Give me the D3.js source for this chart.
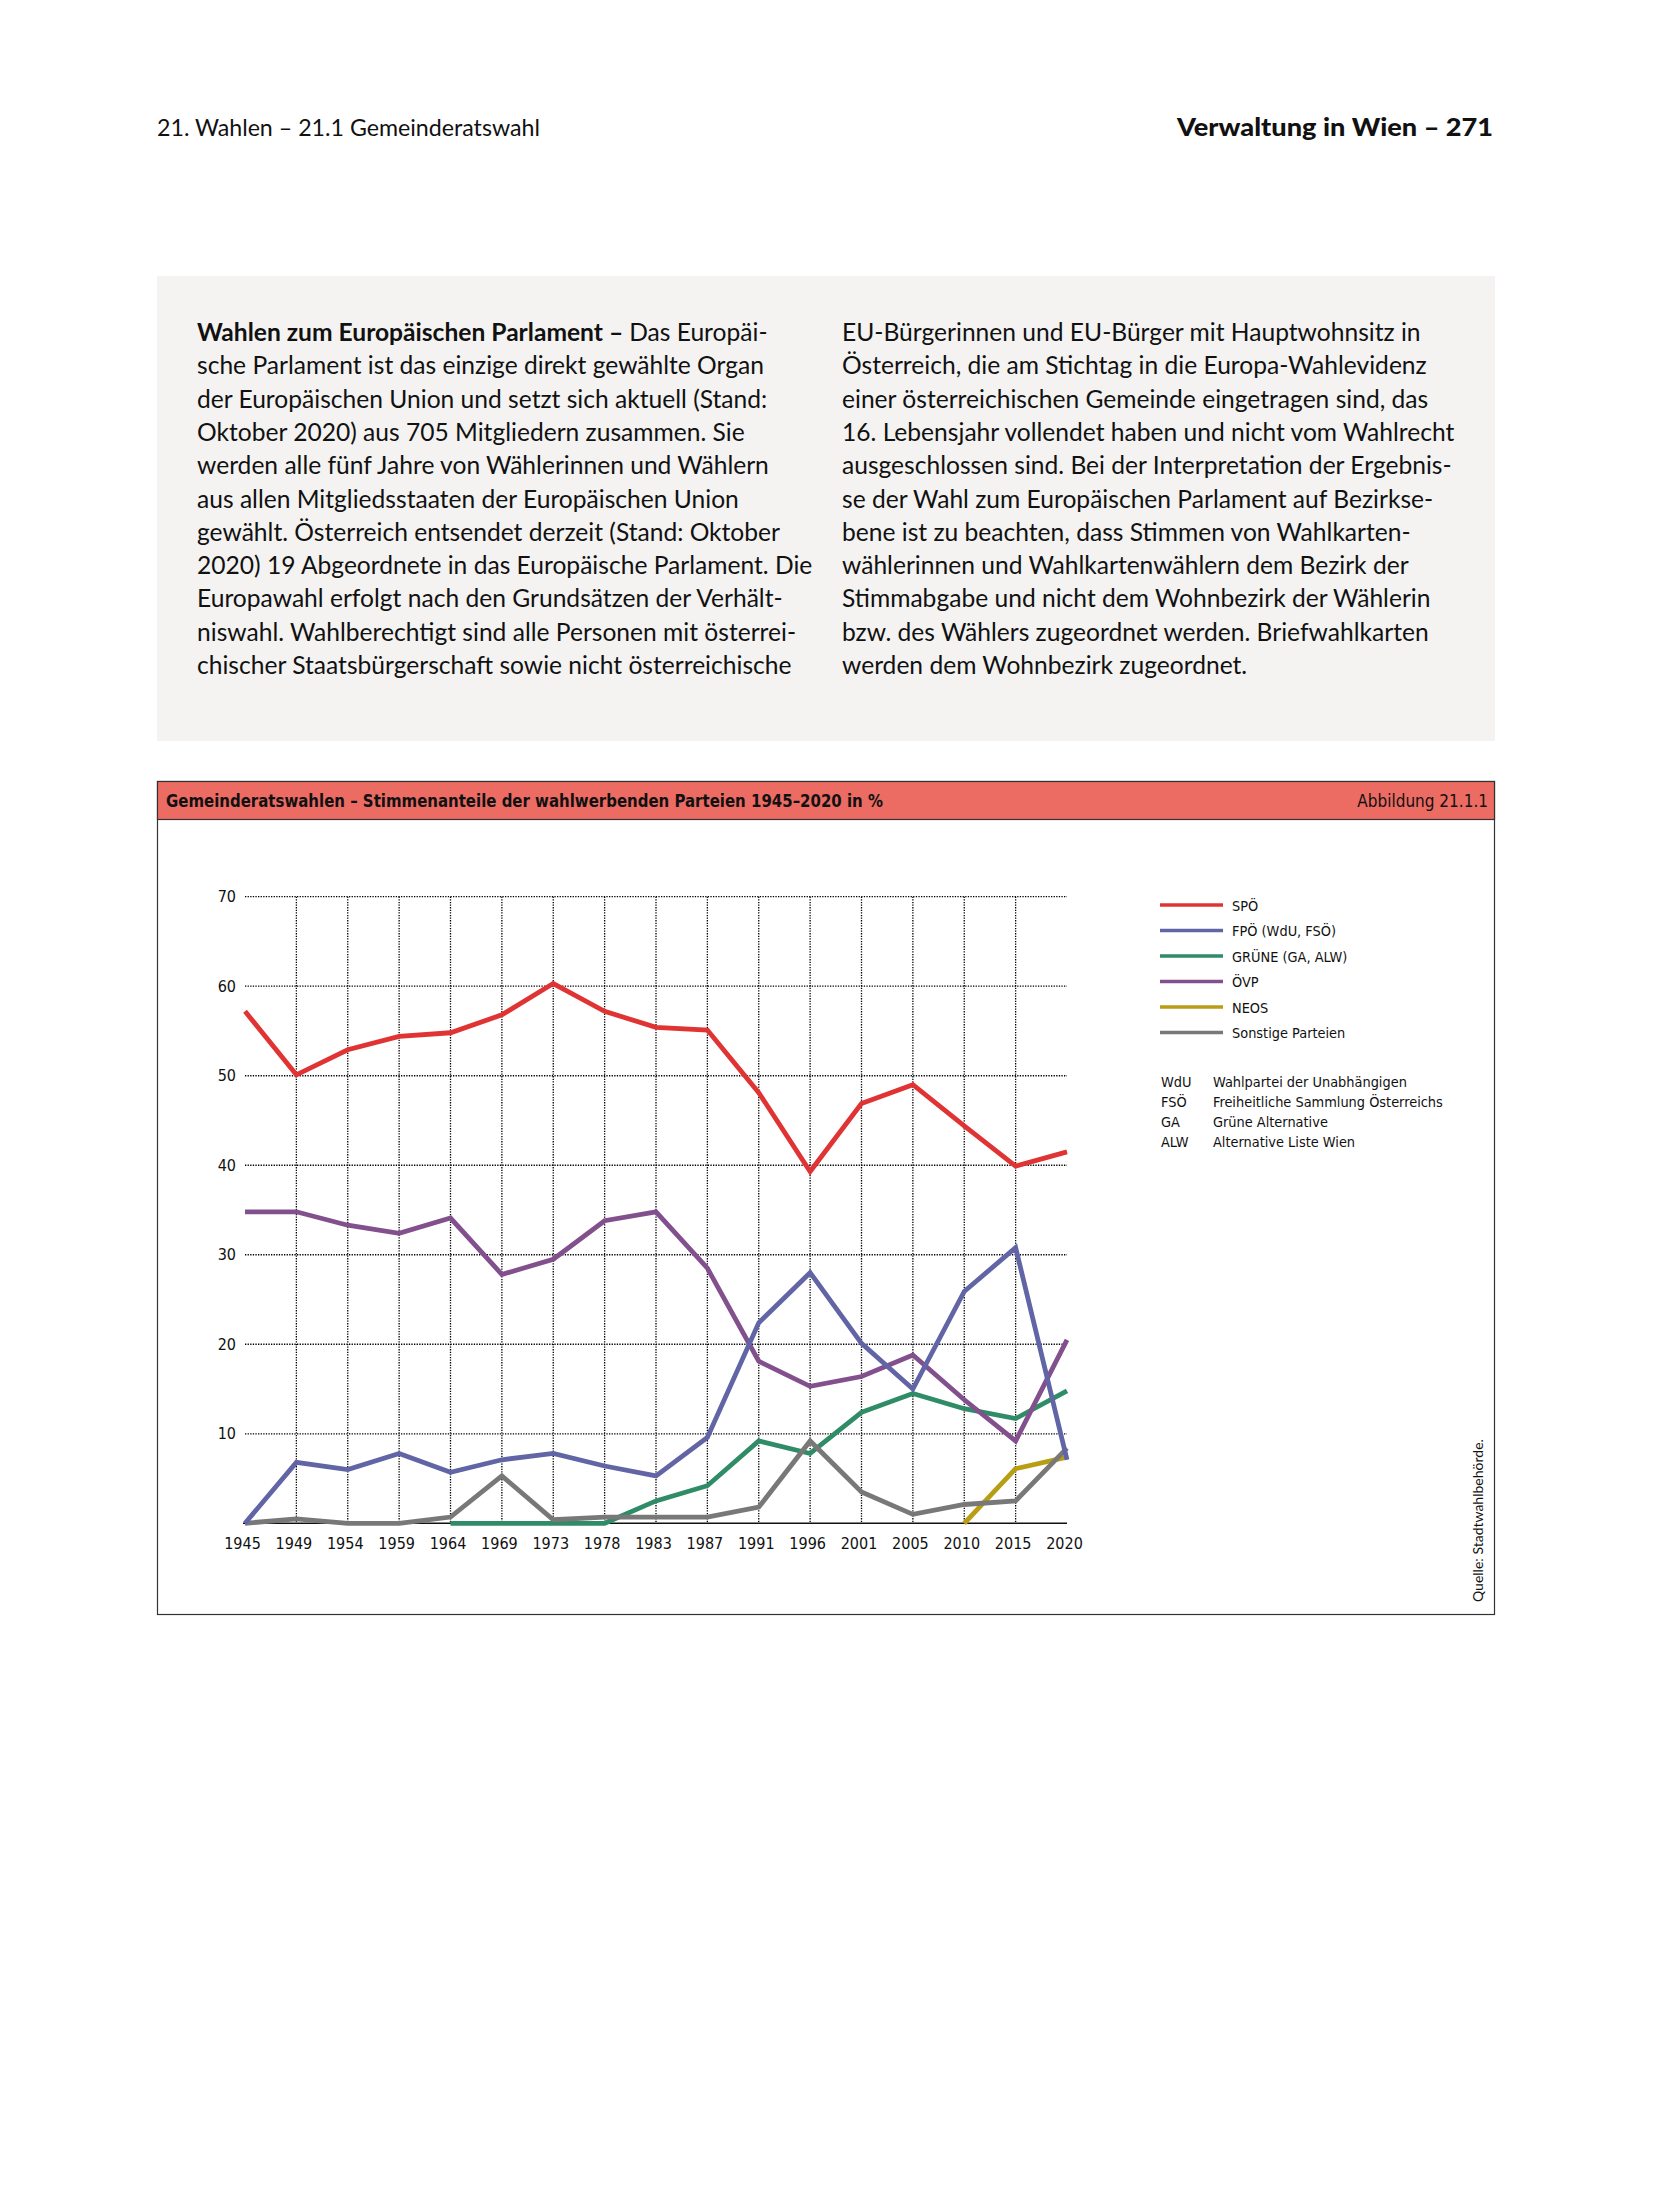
<!DOCTYPE html>
<html><head><meta charset="utf-8">
<script src="https://cdn.jsdelivr.net/npm/d3@7"></script>
<style>
html,body{margin:0;padding:0;background:#fff;}
svg{display:block;}
.body{font-family:Lato,"Open Sans",sans-serif;}
.cond{font-family:"Liberation Sans Narrow","DejaVu Sans Condensed",sans-serif;}
</style></head>
<body>
<script>
// ---------- data ----------
const years = ["1945","1949","1954","1959","1964","1969","1973","1978","1983","1987","1991","1996","2001","2005","2010","2015","2020"];
const spoe   = [57.2,50.1,52.9,54.4,54.8,56.8,60.3,57.2,55.4,55.1,48.1,39.3,46.9,49.0,44.4,39.9,41.5];
const oevp   = [34.8,34.8,33.3,32.4,34.1,27.8,29.5,33.8,34.8,28.5,18.1,15.3,16.4,18.8,13.8,9.2,20.5];
const fpoe   = [0,6.8,6.0,7.8,5.7,7.1,7.8,6.4,5.3,9.6,22.4,28.0,20.1,15.0,25.9,30.8,7.1];
const gruene = [null,null,null,null,0,0,0,0,2.5,4.2,9.2,7.8,12.4,14.5,12.8,11.7,14.8];
const neos   = [null,null,null,null,null,null,null,null,null,null,null,null,null,null,0,6.1,7.4];
const sonst  = [0,0.5,0,0,0.7,5.3,0.4,0.7,0.7,0.7,1.8,9.2,3.5,1.0,2.1,2.5,8.4];
const yTicks = [10,20,30,40,50,60,70];
const seriesNames = ["SPÖ","FPÖ (WdU, FSÖ)","GRÜNE (GA, ALW)","ÖVP","NEOS","Sonstige Parteien"];
const abbrevs = ["WdU","FSÖ","GA","ALW"];
const abbrevLong = ["Wahlpartei der Unabhängigen","Freiheitliche Sammlung Österreichs","Grüne Alternative","Alternative Liste Wien"];
const leftText = [
  ["Wahlen zum Europäischen Parlament – ","Das Europäi-"],
  ["","sche Parlament ist das einzige direkt gewählte Organ"],
  ["","der Europäischen Union und setzt sich aktuell (Stand:"],
  ["","Oktober 2020) aus 705 Mitgliedern zusammen. Sie"],
  ["","werden alle fünf Jahre von Wählerinnen und Wählern"],
  ["","aus allen Mitgliedsstaaten der Europäischen Union"],
  ["","gewählt. Österreich entsendet derzeit (Stand: Oktober"],
  ["","2020) 19 Abgeordnete in das Europäische Parlament. Die"],
  ["","Europawahl erfolgt nach den Grundsätzen der Verhält-"],
  ["","niswahl. Wahlberechtigt sind alle Personen mit österrei-"],
  ["","chischer Staatsbürgerschaft sowie nicht österreichische"]
];
const rightText = [
  "EU-Bürgerinnen und EU-Bürger mit Hauptwohnsitz in",
  "Österreich, die am Stichtag in die Europa-Wahlevidenz",
  "einer österreichischen Gemeinde eingetragen sind, das",
  "16. Lebensjahr vollendet haben und nicht vom Wahlrecht",
  "ausgeschlossen sind. Bei der Interpretation der Ergebnis-",
  "se der Wahl zum Europäischen Parlament auf Bezirkse-",
  "bene ist zu beachten, dass Stimmen von Wahlkarten-",
  "wählerinnen und Wahlkartenwählern dem Bezirk der",
  "Stimmabgabe und nicht dem Wohnbezirk der Wählerin",
  "bzw. des Wählers zugeordnet werden. Briefwahlkarten",
  "werden dem Wohnbezirk zugeordnet."
];

// ---------- page ----------
const W = 1654, H = 2205;
const svg = d3.select("body").append("svg").attr("width", W).attr("height", H);
svg.append("rect").attr("width", W).attr("height", H).attr("fill", "#fff");

// header
svg.append("text").attr("class","body").attr("x",157).attr("y",136)
  .attr("font-size",23.2).attr("fill","#111").text("21. Wahlen – 21.1 Gemeinderatswahl");
svg.append("text").attr("class","body").attr("x",1493).attr("y",136)
  .attr("font-size",24).attr("font-weight",900).attr("text-anchor","end").attr("fill","#111")
  .attr("textLength",316).attr("lengthAdjust","spacingAndGlyphs")
  .text("Verwaltung in Wien – 271");

// grey text box
svg.append("rect").attr("x",157).attr("y",276).attr("width",1338).attr("height",465).attr("fill","#f4f3f1");
const lh = 33.3;
leftText.forEach((l,i)=>{
  const t = svg.append("text").attr("class","body").attr("x",197).attr("y",341+i*lh)
    .attr("font-size",24.6).attr("fill","#111");
  if (l[0]) t.append("tspan").attr("font-weight",700).text(l[0]);
  t.append("tspan").text(l[1]);
});
rightText.forEach((l,i)=>{
  svg.append("text").attr("class","body").attr("x",842).attr("y",341+i*lh)
    .attr("font-size",24.6).attr("fill","#111").text(l);
});

// chart frame
svg.append("rect").attr("x",157.5).attr("y",781.5).attr("width",1337).attr("height",833)
  .attr("fill","#fff").attr("stroke","#333").attr("stroke-width",1.2);
svg.append("rect").attr("x",157.5).attr("y",781.5).attr("width",1337).attr("height",38)
  .attr("fill","#ec6b63").attr("stroke","#333").attr("stroke-width",1.2);
svg.append("text").attr("class","cond").attr("x",166).attr("y",807).attr("font-size",17)
  .attr("font-weight",700).attr("fill","#111")
  .attr("textLength",717).attr("lengthAdjust","spacingAndGlyphs")
  .text("Gemeinderatswahlen – Stimmenanteile der wahlwerbenden Parteien 1945–2020 in %");
svg.append("text").attr("class","cond").attr("x",1488).attr("y",807).attr("font-size",17)
  .attr("text-anchor","end").attr("fill","#111").text("Abbildung 21.1.1");

// scales
const x = d3.scalePoint().domain(years).range([245,1067]);
const y = d3.scaleLinear().domain([0,70]).range([1523.3,896.7]);

const g = svg.append("g");
// horizontal grid
g.selectAll(".hg").data(yTicks).join("line")
  .attr("x1",x(years[0])).attr("x2",x(years[years.length-1]))
  .attr("y1",d=>y(d)).attr("y2",d=>y(d))
  .attr("stroke","#000").attr("stroke-width",1.3).attr("stroke-dasharray","1.3,1.3");
// vertical grid
g.selectAll(".vg").data(years.slice(1,-1)).join("line")
  .attr("x1",d=>x(d)).attr("x2",d=>x(d))
  .attr("y1",y(70)).attr("y2",y(0))
  .attr("stroke","#000").attr("stroke-width",1.3).attr("stroke-dasharray","1.3,1.3");

// axes
const yAxis = d3.axisLeft(y).tickValues(yTicks).tickSize(0).tickPadding(9);
const ya = g.append("g").attr("transform",`translate(${x(years[0])},0)`).call(yAxis);
ya.select(".domain").remove();
ya.selectAll("text").attr("class","cond").attr("font-size",16).attr("fill","#111");

const xAxis = d3.axisBottom(x).tickSize(0).tickPadding(14);
const xa = g.append("g").attr("transform",`translate(0,${y(0)})`).call(xAxis);
xa.select(".domain").remove();
xa.selectAll("text").attr("class","cond").attr("font-size",16).attr("fill","#111").attr("dx",-3);
g.append("line").attr("x1",x(years[0])-2).attr("x2",x(years[years.length-1]))
  .attr("y1",y(0)).attr("y2",y(0)).attr("stroke","#111").attr("stroke-width",1.6);

// lines
const colors = {spoe:"#e03434",fpoe:"#6165a6",gruene:"#2f8c66",oevp:"#82508c",neos:"#b89e14",sonst:"#787878"};
const drawOrder = [["gruene",gruene],["neos",neos],["sonst",sonst],["oevp",oevp],["fpoe",fpoe],["spoe",spoe]];
const line = d3.line().defined(d=>d[1]!==null).x(d=>x(d[0])).y(d=>y(d[1]));
drawOrder.forEach(([k,vals])=>{
  g.append("path").datum(years.map((yr,i)=>[yr,vals[i]]))
    .attr("d",line).attr("fill","none").attr("stroke",colors[k])
    .attr("stroke-width",4.8).attr("stroke-linejoin","miter");
});

// legend
const legKeys = ["spoe","fpoe","gruene","oevp","neos","sonst"];
const leg = svg.append("g");
seriesNames.forEach((n,i)=>{
  const yy = 905 + i*25.5;
  leg.append("line").attr("x1",1160).attr("x2",1223).attr("y1",yy).attr("y2",yy)
    .attr("stroke",colors[legKeys[i]]).attr("stroke-width",3.6);
  leg.append("text").attr("class","cond").attr("x",1232).attr("y",yy+5.5)
    .attr("font-size",14.4).attr("fill","#111").text(n);
});
abbrevs.forEach((a,i)=>{
  const yy = 1081.7 + i*19.8;
  leg.append("text").attr("class","cond").attr("x",1161).attr("y",yy+5.5)
    .attr("font-size",14.4).attr("fill","#111").text(a);
  leg.append("text").attr("class","cond").attr("x",1213).attr("y",yy+5.5)
    .attr("font-size",14.4).attr("fill","#111").text(abbrevLong[i]);
});

// source
svg.append("text").attr("class","body").attr("transform","translate(1483,1602) rotate(-90)")
  .attr("font-size",14).attr("fill","#111").text("Quelle: Stadtwahlbehörde.");
</script>
</body></html>
